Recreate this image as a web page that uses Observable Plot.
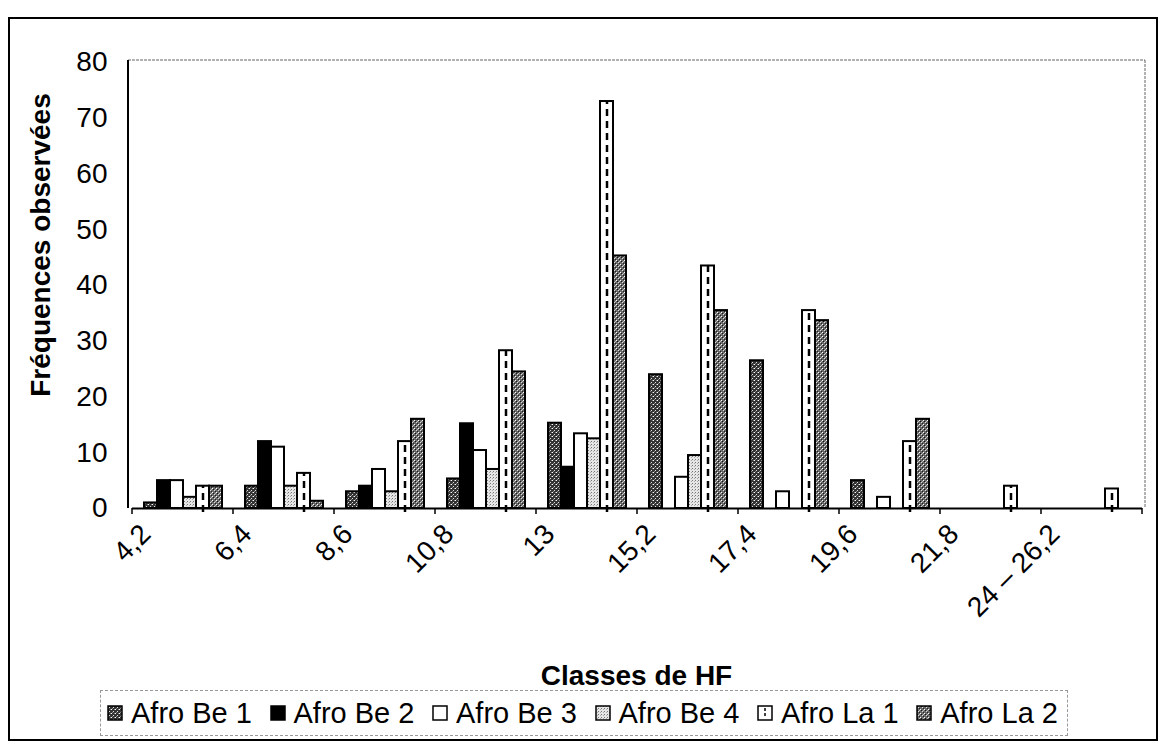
<!DOCTYPE html>
<html><head><meta charset="utf-8">
<script src="https://cdn.jsdelivr.net/npm/d3@7"></script>
<script src="https://cdn.jsdelivr.net/npm/@observablehq/plot@0.6"></script>
<style>
body{margin:0;background:#fff;font-family:"Liberation Sans",Arial,sans-serif;}
#wrap{position:relative;width:1163px;height:748px;overflow:hidden;background:#fff}
#outer{position:absolute;left:8px;top:17px;width:1150px;height:724px;border:2px solid #000;box-sizing:border-box;pointer-events:none}
#legend{position:absolute;left:100px;top:690px;width:968px;height:46px;border:1px dashed #999;box-sizing:border-box;display:flex;align-items:center;justify-content:space-between;padding:0 9px 0 6px;font-size:29px;color:#000;white-space:nowrap}
#legend .item{display:flex;align-items:center}
#legend svg{margin-right:8px}
#chart{position:absolute;left:0;top:0}
</style></head>
<body>
<svg width="0" height="0" style="position:absolute">
  <defs>
    <pattern id="pBe1" patternUnits="userSpaceOnUse" width="4" height="4">
      <rect width="4" height="4" fill="#333"/>
      <rect x="0" y="0" width="1" height="1" fill="#fff"/>
      <rect x="2" y="2" width="1" height="1" fill="#ddd"/>
      <rect x="3" y="0" width="1" height="1" fill="#888"/>
      <rect x="1" y="3" width="1" height="1" fill="#888"/>
    </pattern>
    <pattern id="pBe4" patternUnits="userSpaceOnUse" width="3" height="3">
      <rect width="3" height="3" fill="#e6e6e6"/>
      <rect x="0" y="0" width="1" height="1" fill="#777"/>
      <rect x="2" y="1" width="1" height="1" fill="#aaa"/>
    </pattern>
    <pattern id="pLa2" patternUnits="userSpaceOnUse" width="4" height="4">
      <rect width="4" height="4" fill="#6a6a6a"/>
      <rect x="0" y="0" width="1" height="1" fill="#fff"/>
      <rect x="2" y="2" width="1" height="1" fill="#ddd"/>
      <rect x="1" y="1" width="1" height="1" fill="#111"/>
      <rect x="3" y="3" width="1" height="1" fill="#222"/>
      <rect x="3" y="1" width="1" height="1" fill="#bbb"/>
    </pattern>
  </defs>
</svg>
<div id="wrap">
  <div id="chart"></div>
  <div id="legend"></div>
  <div id="outer"></div>
</div>
<script>
const categories = ["4,2","6,4","8,6","10,8","13","15,2","17,4","19,6","21,8","24 – 26,2"];
const seriesNames = ["Afro Be 1","Afro Be 2","Afro Be 3","Afro Be 4","Afro La 1","Afro La 2"];
const afroBe1 = [1, 4, 3, 5.3, 15.3, 24, 26.5, 5, 0, 0];
const afroBe2 = [5, 12, 4, 15.2, 7.4, 0, 0, 0, 0, 0];
const afroBe3 = [5, 11, 7, 10.4, 13.4, 5.6, 3, 2, 0, 0];
const afroBe4 = [2, 4, 3, 7, 12.5, 9.5, 0, 0, 0, 0];
const afroLa1 = [4, 6.3, 12, 28.3, 73, 43.5, 35.5, 12, 4, 3.5];
const afroLa2 = [4, 1.3, 16, 24.5, 45.3, 35.5, 33.7, 16, 0, 0];
const yTicks = [0,10,20,30,40,50,60,70,80];
const xTitle = "Classes de HF";
const yTitle = "Fréquences observées";

const seriesValues = [afroBe1, afroBe2, afroBe3, afroBe4, afroLa1, afroLa2];
const rows = [];
categories.forEach((c, i) => {
  seriesValues.forEach((arr, j) => {
    if (arr[i] > 0) rows.push({cat: c, series: seriesNames[j], value: arr[i]});
  });
});

const fills = {
  "Afro Be 1": "url(#pBe1)",
  "Afro Be 2": "#000",
  "Afro Be 3": "#fff",
  "Afro Be 4": "url(#pBe4)",
  "Afro La 1": "#fff",
  "Afro La 2": "url(#pLa2)"
};

const font = "'Liberation Sans', Arial, sans-serif";
const chart = Plot.plot({
  width: 1163, height: 700,
  marginLeft: 128, marginRight: 18, marginTop: 62, marginBottom: 192,
  style: {fontFamily: font, fontSize: "28px", color: "#000", background: "transparent", overflow: "visible"},
  fx: {domain: categories, padding: 0, label: null},
  x: {domain: seriesNames, paddingInner: 0, paddingOuter: 0.85, axis: null},
  y: {domain: [0, 80], label: null},
  color: {type: "identity"},
  marks: [
    Plot.barY(rows, {fx: "cat", x: "series", y: "value", fill: d => fills[d.series], stroke: "#000", strokeWidth: 2}),
    Plot.ruleX(rows.filter(d => d.series === "Afro La 1"), {fx: "cat", x: "series", y1: 0, y2: "value", stroke: "#000", strokeWidth: 2.5, strokeDasharray: "7,5", insetTop: 4}),
    Plot.ruleY([0], {stroke: "#000", strokeWidth: 2}),
    Plot.axisY({ticks: yTicks, tickSize: 0, tickPadding: 25, label: null, fontSize: 28}),
    Plot.axisFx({anchor: "bottom", tickRotate: -45, tickSize: 0, tickPadding: 6, label: null, fontSize: 28, dx: -37, dy: 15})
  ]
});
document.getElementById("chart").appendChild(chart);

// decorations using the library's scales
const svg = d3.select(chart);
const fx = chart.scale("fx");
const y = chart.scale("y");
const x0 = 128, x1 = 1163 - 18;
const yTop = y.apply(80) - 2, yBot = y.apply(0);
const deco = svg.append("g");
deco.append("line").attr("x1", x0).attr("x2", x1).attr("y1", yTop).attr("y2", yTop).attr("stroke", "#666").attr("stroke-dasharray", "3,1");
deco.append("line").attr("x1", x1).attr("x2", x1).attr("y1", yTop).attr("y2", yBot).attr("stroke", "#666").attr("stroke-dasharray", "3,1");
deco.append("line").attr("x1", x0).attr("x2", x0).attr("y1", yTop).attr("y2", yBot).attr("stroke", "#000").attr("stroke-width", 2);
const edges = categories.map(c => fx.apply(c)).concat([fx.apply(categories[categories.length-1]) + fx.bandwidth]);
edges.forEach(e => deco.append("line").attr("x1", e).attr("x2", e).attr("y1", yBot).attr("y2", yBot + 6).attr("stroke", "#000").attr("stroke-width", 1.5));
deco.append("text").attr("x", (x0 + x1) / 2).attr("y", 685).attr("text-anchor", "middle")
  .attr("font-family", font).attr("font-size", 28).attr("font-weight", "bold").text(xTitle);
deco.append("text").attr("transform", "translate(40,245) rotate(-90)").attr("text-anchor", "middle").attr("dominant-baseline", "central")
  .attr("font-family", font).attr("font-size", 28).attr("font-weight", "bold").text(yTitle);

// legend
const legend = d3.select("#legend");
seriesNames.forEach(s => {
  const it = legend.append("div").attr("class", "item");
  const sw = it.append("svg").attr("width", 16).attr("height", 16);
  sw.append("rect").attr("x", 1).attr("y", 1).attr("width", 14).attr("height", 14).attr("fill", fills[s]).attr("stroke", "#000").attr("stroke-width", 1.5);
  if (s === "Afro La 1") sw.append("line").attr("x1", 8).attr("x2", 8).attr("y1", 3).attr("y2", 13).attr("stroke", "#000").attr("stroke-width", 1.5).attr("stroke-dasharray", "3,2");
  it.append("span").text(s);
});
</script>
</body></html>
